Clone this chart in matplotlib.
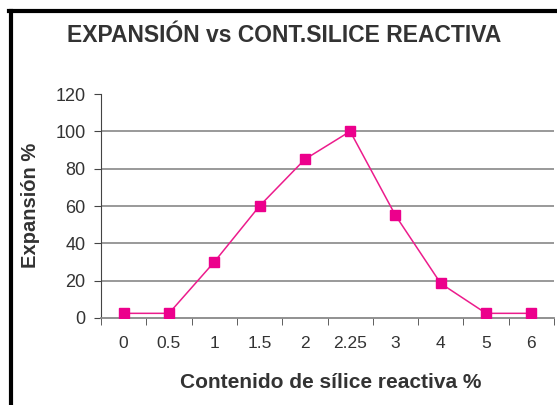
import matplotlib.pyplot as plt
from matplotlib.lines import Line2D

# data
categories = ['0', '0.5', '1', '1.5', '2', '2.25', '3', '4', '5', '6']
expansion = [2.5, 2.5, 30, 60, 85, 100, 55, 18.5, 2.5, 2.5]

plt.rcParams['font.family'] = ['Liberation Sans', 'DejaVu Sans']

fig = plt.figure(figsize=(5.57, 4.05), dpi=100)
W, H = 557, 405
ax = fig.add_axes([101 / W, 1 - 318 / H, (554 - 101) / W, (318 - 94) / H])

x = list(range(len(categories)))
ax.plot(x, expansion, color='#EC1C8C', lw=1.1, marker='s', ms=7.5,
        mfc='#EC008C', mec='#EC008C', zorder=3)

ax.set_xlim(-0.5, len(categories) - 0.5)
ax.set_ylim(0, 120)
ax.set_yticks(range(0, 121, 20))
ax.set_xticks(x)
ax.set_xticklabels(categories)
ax.set_xticks([i - 0.5 for i in range(len(categories) + 1)], minor=True)
ax.tick_params(axis='x', which='major', length=0, pad=13, labelsize=12.5, labelcolor='#333333')
ax.tick_params(axis='x', which='minor', length=5, color='#444444', direction='out')
ax.tick_params(axis='y', length=5, color='#444444', labelsize=13, labelcolor='#333333', pad=6)

for v in range(20, 101, 20):
    ax.axhline(v, color='#888888', lw=1.2, zorder=1)

for s in ['top', 'right']:
    ax.spines[s].set_visible(False)
ax.spines['left'].set_color('#444444')
ax.spines['bottom'].set_color('#888888')
ax.spines['bottom'].set_linewidth(1.3)

fig.text(284 / W, 1 - 35 / H, 'EXPANSIÓN vs CONT.SILICE REACTIVA', ha='center', va='center',
         fontsize=16.5, fontweight='bold', color='#333333')
fig.text(331 / W, 1 - 383 / H, 'Contenido de sílice reactiva %', ha='center', va='center',
         fontsize=15, fontweight='bold', color='#333333')
fig.text(31 / W, 1 - 205 / H, 'Expansión %', ha='center', va='center', rotation=90,
         fontsize=14.5, fontweight='bold', color='#333333')

# chart frame (left and top edges visible)
fig.add_artist(Line2D([10.5 / W, 10.5 / W], [0, 1 - 11 / H], color='black', lw=3,
                      transform=fig.transFigure))
fig.add_artist(Line2D([9 / W, 1], [1 - 11 / H, 1 - 11 / H], color='black', lw=3,
                      transform=fig.transFigure))

fig.savefig('out.png', dpi=100)
